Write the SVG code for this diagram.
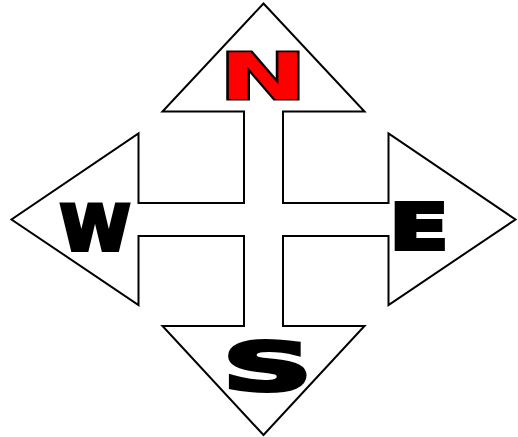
<svg xmlns="http://www.w3.org/2000/svg" width="518" height="437" viewBox="0 0 518 437">
<style>
.outline{fill:#fff;stroke:#000;stroke-width:2;stroke-linejoin:miter}
.lt{font-family:"DejaVu Sans",sans-serif;font-weight:bold;text-anchor:middle;fill:#000;stroke:#000;stroke-width:4;stroke-linejoin:miter;paint-order:stroke}
.red{fill:#ff0000;stroke-width:3.2}
</style>
<rect width="518" height="437" fill="#fff"/>
<g id="compass">
<polygon class="outline" points="263.5,3.5 364.5,111.5 283,111.5 283,203 388.5,203 388.5,133.5 515.5,219.5 388.5,305 388.5,236 283,236 283,326 364.5,326 263.5,435 162.5,326 244,326 244,236 138.5,236 138.5,305 11.5,219.5 138.5,133.5 138.5,203 244,203 244,111.5 162.5,111.5"/>
</g>
<g id="north"><text class="lt red" font-size="64" transform="translate(263,98.5) scale(1.63,1)">N</text></g>
<g id="west"><text class="lt" font-size="63" transform="translate(95,249.5) scale(1.01,1)">W</text></g>
<g id="east"><text class="lt" font-size="63" transform="translate(419,249) scale(1.37,1)">E</text></g>
<g id="south"><text class="lt" font-size="66" transform="translate(267.5,389.5) scale(1.87,1)">S</text></g>
</svg>
